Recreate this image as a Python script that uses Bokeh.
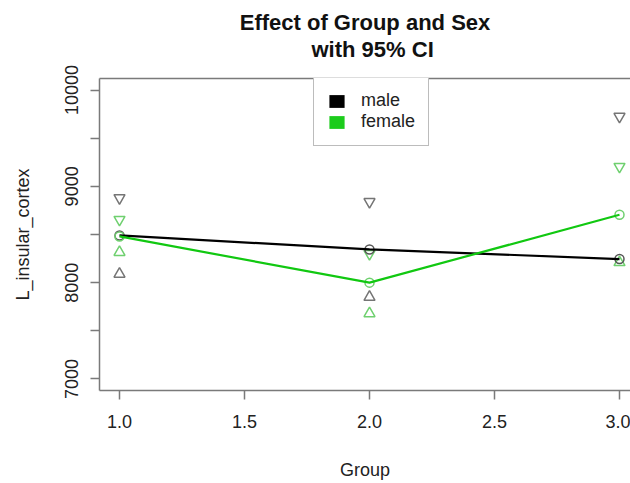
from bokeh.plotting import figure
from bokeh.models import (Range1d, FixedTicker, LinearAxis, Legend, LegendItem, Title)
from bokeh.embed import file_html
from bokeh.resources import INLINE

# ---- data ----
groups = [1, 2, 3]
male_mean = [8490, 8345, 8245]
male_upper = [8880, 8840, 9725]
male_lower = [8090, 7850, 6770]
female_mean = [8480, 8000, 8705]
female_upper = [8655, 8300, 9205]
female_lower = [8315, 7680, 8210]

x_ticks = [1.0, 1.5, 2.0, 2.5, 3.0]
x_tick_labels = ["1.0", "1.5", "2.0", "2.5", "3.0"]
y_major = [7000, 8000, 9000, 10000]
y_minor = [7500, 8500, 9500]
y_tick_labels = ["7000", "8000", "9000", "10000"]
series_names = ["male", "female"]
title_lines = ["Effect of Group and Sex", "with 95% CI"]

FONT = "Liberation Sans"
GRAY = "#7a7a7a"
GREEN = "#11c811"

p = figure(width=630, height=483, output_backend="svg", toolbar_location=None,
           x_range=Range1d(0.92, 3.044), y_range=Range1d(6880, 10120),
           min_border_left=99, min_border_top=78, min_border_right=0,
           min_border_bottom=93, x_axis_location=None, y_axis_location=None)
p.grid.visible = False
p.outline_line_color = None
p.background_fill_color = "white"
p.border_fill_color = "white"

# axes
xaxis = LinearAxis(ticker=FixedTicker(ticks=x_ticks),
                   major_label_overrides={float(t): l for t, l in zip(x_ticks, x_tick_labels)},
                   axis_label="Group")
yaxis = LinearAxis(ticker=FixedTicker(ticks=y_major, minor_ticks=y_minor),
                   major_label_overrides={float(t): l for t, l in zip(y_major, y_tick_labels)},
                   axis_label="L_insular_cortex", major_label_orientation="vertical")
for ax in (xaxis, yaxis):
    ax.axis_line_color = GRAY
    ax.axis_line_width = 1.5
    ax.major_tick_line_color = GRAY
    ax.major_tick_line_width = 1.5
    ax.minor_tick_line_color = GRAY
    ax.minor_tick_line_width = 1.5
    ax.major_tick_out = 9
    ax.major_tick_in = 0
    ax.minor_tick_out = 9
    ax.minor_tick_in = 0
    ax.major_label_text_font = FONT
    ax.major_label_text_font_size = "18px"
    ax.major_label_text_color = "#222222"
    ax.axis_label_text_font = FONT
    ax.axis_label_text_font_size = "18px"
    ax.axis_label_text_font_style = "normal"
    ax.axis_label_text_color = "#222222"
xaxis.major_label_standoff = 15
xaxis.axis_label_standoff = 29
yaxis.major_label_standoff = 12
yaxis.axis_label_standoff = 30
p.add_layout(xaxis, "below")
p.add_layout(yaxis, "left")

# top border of the box (no ticks); a blank label leaves room below the title
top_axis = LinearAxis(ticker=FixedTicker(ticks=[]), axis_line_color=GRAY,
                      axis_line_width=1.5, major_tick_out=0, major_tick_in=0,
                      minor_tick_out=0, minor_tick_in=0, axis_label=" ",
                      axis_label_text_font_size="12px", axis_label_standoff=0)
p.add_layout(top_axis, "above")

# titles (second line is placed first, closer to the plot)
t2 = Title(text=title_lines[1], align="left", offset=212, text_font=FONT,
           text_font_size="22px", text_font_style="bold", standoff=0,
           text_color="#111111")
t1 = Title(text=title_lines[0], align="center", text_font=FONT,
           text_font_size="22px", text_font_style="bold", standoff=0,
           text_color="#111111")
p.add_layout(t2, "above")
p.add_layout(t1, "above")

# CI markers
p.scatter(groups, male_upper, marker="inverted_triangle", size=11,
          fill_color=None, line_color="#666666", line_width=1.5, line_alpha=0.9)
p.scatter(groups, male_lower, marker="triangle", size=11,
          fill_color=None, line_color="#666666", line_width=1.5, line_alpha=0.9)
p.scatter(groups, female_upper, marker="inverted_triangle", size=11,
          fill_color=None, line_color="#6fd06f", line_width=1.5)
p.scatter(groups, female_lower, marker="triangle", size=11,
          fill_color=None, line_color="#6fd06f", line_width=1.5)

# means
p.scatter(groups, male_mean, marker="circle", size=9, fill_color=None,
          line_color="#555555", line_width=1.5)
p.scatter(groups, female_mean, marker="circle", size=9, fill_color=None,
          line_color="#6fd06f", line_width=1.5)
p.line(groups, male_mean, line_color="black", line_width=2.2)
p.line(groups, female_mean, line_color=GREEN, line_width=2.2)

# legend swatches: zero-size blocks at the mean points (invisible in plot)
r_m = p.block(x=groups, y=male_mean, width=0, height=0, fill_color="black",
              line_color="#333333", line_alpha=0)
r_f = p.block(x=groups, y=female_mean, width=0, height=0, fill_color="#1ccc1c",
              line_color="#22aa22", line_alpha=0)
legend = Legend(items=[LegendItem(label=series_names[0], renderers=[r_m]),
                       LegendItem(label=series_names[1], renderers=[r_f])],
                location=(214, 244), padding=13, spacing=0, label_height=21,
                glyph_height=16, glyph_width=19, label_standoff=15,
                label_text_font=FONT, label_text_font_size="18px",
                label_text_color="#222222",
                border_line_color=GRAY, border_line_width=1.2,
                background_fill_color="white", background_fill_alpha=1,
                margin=0)
p.add_layout(legend, "center")

open("out.html", "w").write(file_html(p, INLINE))
